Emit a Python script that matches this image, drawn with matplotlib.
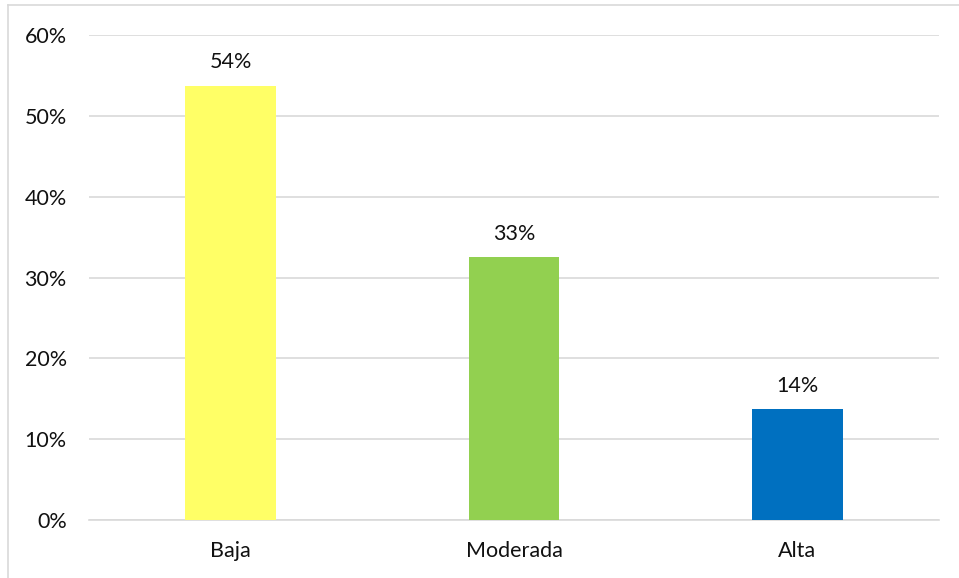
import matplotlib.pyplot as plt
from matplotlib.ticker import PercentFormatter
from matplotlib.lines import Line2D

# data
categories = ['Baja', 'Moderada', 'Alta']
values = [53.7, 32.5, 13.7]
labels = ['54%', '33%', '14%']
colors = ['#FFFF66', '#92D050', '#0070C0']

plt.rcParams['font.family'] = ['Lato', 'DejaVu Sans']
fs = 15.5

fig = plt.figure(figsize=(9.59, 5.78), dpi=100)
ax = fig.add_axes([89 / 959, 1 - 520 / 578, 850 / 959, 485 / 578])

x = range(len(categories))
bars = ax.bar(x, values, width=0.32, color=colors, zorder=3)

for b, lab in zip(bars, labels):
    ax.annotate(lab, (b.get_x() + b.get_width() / 2, b.get_height()),
                xytext=(0, 17), textcoords='offset points',
                ha='center', va='center', fontsize=fs, color='#111111')

ax.set_xlim(-0.5, 2.5)
ax.set_ylim(0, 60)
ax.set_yticks(range(0, 61, 10))
ax.yaxis.set_major_formatter(PercentFormatter(decimals=0))
ax.set_xticks(list(x))
ax.set_xticklabels(categories)
ax.tick_params(axis='y', length=0, pad=16, labelsize=fs, labelcolor='#111111')
ax.tick_params(axis='x', length=0, pad=15, labelsize=fs, labelcolor='#111111')
ax.grid(axis='y', color='#d9d9d9', lw=1.2, zorder=0)
for s in ['top', 'right', 'left']:
    ax.spines[s].set_visible(False)
ax.spines['bottom'].set_color('#d9d9d9')
ax.spines['bottom'].set_linewidth(1.2)

# chart border (top and left visible)
fig.add_artist(Line2D([8 / 959, 8 / 959], [0, 1 - 5 / 578], color='#d9d9d9', lw=1.2))
fig.add_artist(Line2D([8 / 959, 1], [1 - 5 / 578, 1 - 5 / 578], color='#d9d9d9', lw=1.2))

fig.savefig('out.png', dpi=100)
